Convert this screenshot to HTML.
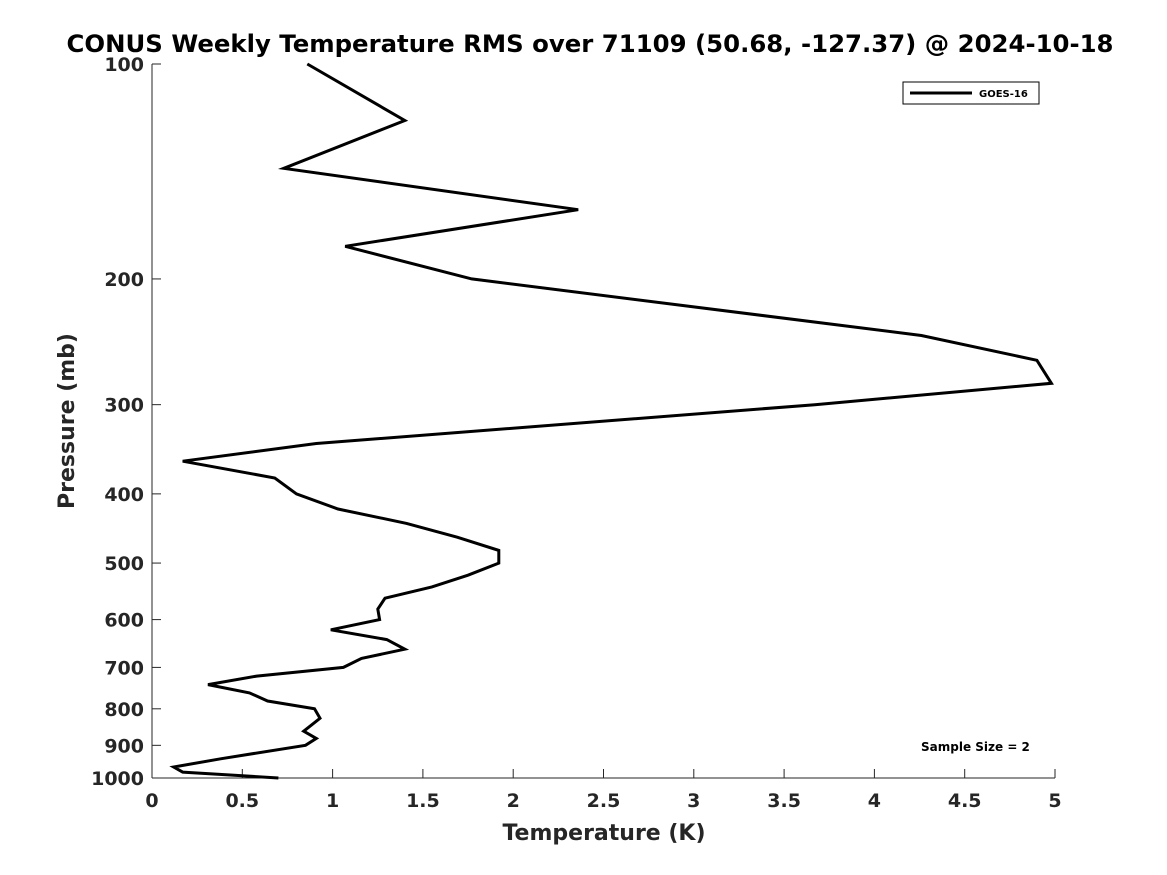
<!DOCTYPE html>
<html><head><meta charset="utf-8"><style>
body{margin:0;background:#fff;}
svg{display:block;font-family:"DejaVu Sans","Liberation Sans",sans-serif;}
</style></head><body>
<svg id="chart" width="1167" height="875" viewBox="0 0 1167 875" xmlns="http://www.w3.org/2000/svg">
<rect width="1167" height="875" fill="#fff"/>
<text x="590" y="52" text-anchor="middle" font-size="24" font-weight="bold" fill="#000" textLength="1047" lengthAdjust="spacingAndGlyphs">CONUS Weekly Temperature RMS over 71109 (50.68, -127.37) @ 2024-10-18</text>
<g id="axes"></g>
<g id="series"></g>
<g>
<rect x="903" y="82" width="136" height="22" fill="#fff" stroke="#000" stroke-width="1"/>
<line x1="910" y1="93" x2="972" y2="93" stroke="#000" stroke-width="3"/>
<text x="979" y="97" font-size="10" font-weight="bold">GOES-16</text>
</g>
<text x="921" y="751" font-size="12" font-weight="bold">Sample Size = 2</text>
<text x="604" y="840" text-anchor="middle" font-size="22" font-weight="bold" fill="#262626">Temperature (K)</text>
<text transform="translate(74,421) rotate(-90)" text-anchor="middle" font-size="22" font-weight="bold" fill="#262626">Pressure (mb)</text>
</svg>
<script>
const pressures = [100,120,140,160,180,200,240,260,280,300,340,360,380,400,420,440,460,480,500,520,540,560,580,600,620,640,660,680,700,720,740,760,780,800,825,860,880,900,940,965,981,1000];
const temps = [0.86,1.40,0.73,2.36,1.07,1.77,4.26,4.90,4.98,3.67,0.91,0.17,0.68,0.80,1.03,1.41,1.69,1.92,1.92,1.75,1.55,1.29,1.25,1.26,0.99,1.30,1.40,1.16,1.06,0.58,0.31,0.54,0.64,0.90,0.93,0.84,0.91,0.85,0.38,0.12,0.17,0.70];
const xTicks = [0,0.5,1,1.5,2,2.5,3,3.5,4,4.5,5];
const yTicks = [100,200,300,400,500,600,700,800,900,1000];

const X0=152,X1=1055,Y0=64,Y1=778;
function xs(v){return X0+(v-0)/(5-0)*(X1-X0);}
function ys(p){return Y0+(Math.log10(p)-2)/(3-2)*(Y1-Y0);}
const NS="http://www.w3.org/2000/svg";
const axes=document.getElementById('axes');
function mk(tag,attrs,parent){const e=document.createElementNS(NS,tag);for(const k in attrs)e.setAttribute(k,attrs[k]);parent.appendChild(e);return e;}
const yAxis=mk('line',{x1:X0,y1:Y0,x2:X0,y2:Y1,stroke:'#262626','stroke-width':1},axes);


const xAxis=mk('line',{x1:X0,y1:Y1,x2:X1,y2:Y1,stroke:'#262626','stroke-width':1},axes);


xTicks.forEach(t=>{
  const x=xs(t);
  mk('line',{x1:x,y1:Y1,x2:x,y2:Y1-9,stroke:'#262626','stroke-width':1},axes);
  const tx=mk('text',{x:x,y:Y1+29,'text-anchor':'middle','font-size':19,'font-weight':'bold',fill:'#262626'},axes);
  tx.textContent=String(t);
  
  
});
yTicks.forEach(t=>{
  const y=ys(t);
  mk('line',{x1:X0,y1:y,x2:X0+9,y2:y,stroke:'#262626','stroke-width':1},axes);
  const tx=mk('text',{x:X0-8,y:y+7,'text-anchor':'end','font-size':19,'font-weight':'bold',fill:'#262626'},axes);
  tx.textContent=String(t);
  
  
});
const pts=pressures.map((p,i)=>xs(temps[i]).toFixed(1)+','+ys(p).toFixed(1)).join(' ');
const line=mk('polyline',{points:pts,fill:'none',stroke:'#000','stroke-width':3,'stroke-linejoin':'miter'},document.getElementById('series'));


</script>
</body></html>
